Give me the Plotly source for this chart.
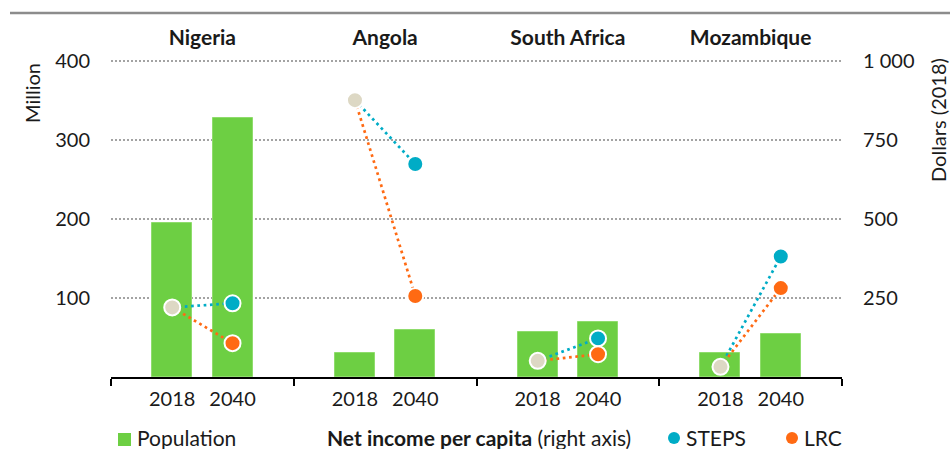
import plotly.graph_objects as go

# ---- data ----
countries = ["Nigeria", "Angola", "South Africa", "Mozambique"]
years = ["2018", "2040"]
pop_2018 = [195, 30, 57, 30]          # million
pop_2040 = [328, 59, 70, 54]          # million
income_2018 = [220, 875, 51, 32]      # dollars (2018)
income_2040_steps = [233, 673, 122, 381]
income_2040_lrc = [107, 256, 72, 281]
left_ticks = [100, 200, 300, 400]
right_ticks = [250, 500, 750, 1000]
right_ticktext = ["250", "500", "750", "1 000"]

# ---- style ----
FONT = "Lato"
TXT = "#1a1a1a"
GREEN = "#6dcf43"
BLUE = "#00acc6"
ORANGE = "#ff6a13"
BEIGE = "#ddd8c4"
OFF = 0.165
BARW = 0.219

W, H = 950, 449
L, R, T, B = 111, 108, 59, 72
pw, ph = W - L - R, H - T - B
YMAX = 402


def px(x):
    return (x - L) / pw


def py(y):
    return (H - B - y) / ph


gi = list(range(len(countries)))
x18 = [g - OFF for g in gi]
x40 = [g + OFF for g in gi]

fig = go.Figure()

fig.add_trace(go.Bar(
    x=x18 + x40, y=pop_2018 + pop_2040, width=BARW,
    marker=dict(color=GREEN, line=dict(color="#8fdc6c", width=1)),
    name="Population", xaxis="x", yaxis="y", hoverinfo="y"))


def seg(end):
    xs, ys = [], []
    for g, a, b in zip(gi, income_2018, end):
        xs += [g - OFF, g + OFF, None]
        ys += [a, b, None]
    return xs, ys


for end, col, nm in [(income_2040_steps, BLUE, "STEPS"), (income_2040_lrc, ORANGE, "LRC")]:
    xs, ys = seg(end)
    fig.add_trace(go.Scatter(x=xs, y=ys, mode="lines", xaxis="x2", yaxis="y2",
                             line=dict(color=col, width=2.7, dash="2.7px,3.6px"),
                             showlegend=False, hoverinfo="skip"))

mk = dict(size=16, line=dict(color="white", width=2))
fig.add_trace(go.Scatter(x=x18, y=income_2018, mode="markers", xaxis="x2", yaxis="y2",
                         marker=dict(color=BEIGE, **mk), name="2018", showlegend=False))
fig.add_trace(go.Scatter(x=x40, y=income_2040_steps, mode="markers", xaxis="x2", yaxis="y2",
                         marker=dict(color=BLUE, **mk), name="STEPS", showlegend=False))
fig.add_trace(go.Scatter(x=x40, y=income_2040_lrc, mode="markers", xaxis="x2", yaxis="y2",
                         marker=dict(color=ORANGE, **mk), name="LRC", showlegend=False))

xr = [-0.5, len(countries) - 0.5]
fig.update_layout(
    width=W, height=H,
    margin=dict(l=L, r=R, t=T, b=B, pad=0),
    paper_bgcolor="white", plot_bgcolor="white",
    font=dict(family=FONT, size=20, color=TXT),
    showlegend=False,
    bargap=0,
    xaxis=dict(range=xr, tickvals=x18 + x40, ticktext=[years[0]] * 4 + [years[1]] * 4,
               ticks="", showgrid=False, zeroline=False,
               showline=True, linecolor="#000", linewidth=1.5,
               minor=dict(tickvals=[g - 0.5 for g in gi] + [len(gi) - 0.5],
                          ticks="outside", ticklen=7, tickwidth=1.5, tickcolor="#000", showgrid=False),
               ticklabelstandoff=3, tickfont=dict(size=20)),
    xaxis2=dict(range=xr, overlaying="x", side="top", anchor="y",
                tickvals=gi, ticktext=[f"<b>{c}</b>" for c in countries],
                ticks="", showgrid=False, zeroline=False, showline=False,
                ticklabelstandoff=9, tickfont=dict(size=21)),
    yaxis=dict(range=[0, YMAX], tickvals=left_ticks, ticks="", showline=False,
               zeroline=False, showgrid=True, gridcolor="#a3a3a3", gridwidth=2,
               griddash="2px,2px", ticklabelstandoff=20),
    yaxis2=dict(range=[0, YMAX * 2.5], overlaying="y", side="right", anchor="x",
                tickvals=right_ticks, ticktext=right_ticktext, ticks="",
                showgrid=False, zeroline=False, showline=False, ticklabelstandoff=20),
)

# axis titles
fig.add_annotation(x=px(32), y=py(93), xref="paper", yref="paper", text="Million",
                   textangle=-90, showarrow=False, xanchor="center", yanchor="middle",
                   font=dict(size=20))
fig.add_annotation(x=px(938), y=py(120), xref="paper", yref="paper", text="Dollars (2018)",
                   textangle=-90, showarrow=False, xanchor="center", yanchor="middle",
                   font=dict(size=20))

# top rule
fig.add_shape(type="line", xref="paper", yref="paper", x0=px(10), x1=px(950),
              y0=py(13), y1=py(13), line=dict(color="#8c8c8c", width=2.5))

# legend
ly = py(437)
lf = dict(size=21)
fig.add_shape(type="rect", xref="paper", yref="paper", x0=px(118), x1=px(131),
              y0=py(433), y1=py(446), fillcolor=GREEN, line=dict(width=0))
fig.add_annotation(x=px(136), y=ly, xref="paper", yref="paper", text="Population",
                   showarrow=False, xanchor="left", yanchor="middle", borderpad=0, font=lf)
fig.add_annotation(x=px(326), y=ly, xref="paper", yref="paper",
                   text="<b>Net income per capita</b> (right axis)",
                   showarrow=False, xanchor="left", yanchor="middle", borderpad=0, font=lf)
for cx, col, nm, tx in [(674, BLUE, "STEPS", 685), (792, ORANGE, "LRC", 803)]:
    fig.add_shape(type="circle", xref="paper", yref="paper", xsizemode="pixel", ysizemode="pixel",
                  xanchor=px(cx), yanchor=py(438), x0=-6, x1=6, y0=-6, y1=6,
                  fillcolor=col, line=dict(width=0))
    fig.add_annotation(x=px(tx), y=ly, xref="paper", yref="paper", text=nm,
                       showarrow=False, xanchor="left", yanchor="middle", borderpad=0, font=lf)

fig.write_html("out.html", config={"displayModeBar": False},
               post_script="document.body.style.margin='0';document.body.style.overflow='hidden';")
